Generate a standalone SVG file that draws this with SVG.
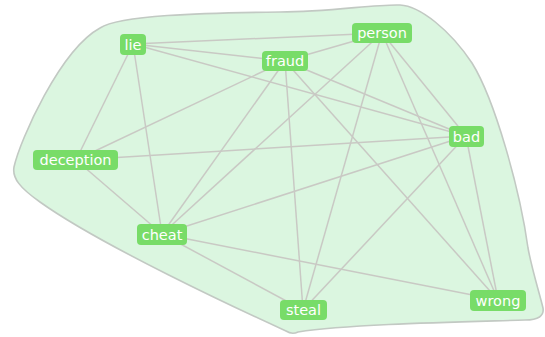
<svg xmlns="http://www.w3.org/2000/svg" width="545" height="337" viewBox="0 0 545 337">
<style>
.hull{fill:#dbf6e0;stroke:#c2c9c3;stroke-width:1.6}
.edge{stroke:#c9c9c4;stroke-width:1.5;fill:none}
.node rect{fill:#78dc68;rx:4;ry:4}
.node text{fill:#ffffff;font-family:"DejaVu Sans","Open Sans",sans-serif;font-size:14.5px;text-anchor:middle;dominant-baseline:central}
</style>
<rect width="545" height="337" fill="#ffffff"/>
<path class="hull" d="M14,167 C20,140 60,50 100,28 C120,15 200,13 280,12 C330,12 375,4 400,5 C420,6 450,30 472,63 C495,100 520,190 528,248 C532,270 540,295 543,308 Q545,320 525,320 C460,322 350,324 298,332 Q292,335 286,331 C240,310 100,245 40,202 C20,188 12,178 14,167 Z"/>
<g id="connectors">
<line class="edge" x1="133" y1="44" x2="382" y2="33"/>
<line class="edge" x1="133" y1="44" x2="285" y2="61"/>
<line class="edge" x1="133" y1="44" x2="466" y2="136"/>
<line class="edge" x1="133" y1="44" x2="76" y2="160"/>
<line class="edge" x1="133" y1="44" x2="162" y2="234"/>
<line class="edge" x1="285" y1="61" x2="382" y2="33"/>
<line class="edge" x1="285" y1="61" x2="76" y2="160"/>
<line class="edge" x1="285" y1="61" x2="162" y2="234"/>
<line class="edge" x1="285" y1="61" x2="466" y2="136"/>
<line class="edge" x1="285" y1="61" x2="303" y2="310"/>
<line class="edge" x1="285" y1="61" x2="498" y2="300"/>
<line class="edge" x1="382" y1="33" x2="162" y2="234"/>
<line class="edge" x1="382" y1="33" x2="303" y2="310"/>
<line class="edge" x1="382" y1="33" x2="498" y2="300"/>
<line class="edge" x1="382" y1="33" x2="466" y2="136"/>
<line class="edge" x1="76" y1="160" x2="466" y2="136"/>
<line class="edge" x1="76" y1="160" x2="162" y2="234"/>
<line class="edge" x1="162" y1="234" x2="466" y2="136"/>
<line class="edge" x1="162" y1="234" x2="498" y2="300"/>
<line class="edge" x1="162" y1="234" x2="303" y2="310"/>
<line class="edge" x1="466" y1="136" x2="303" y2="310"/>
<line class="edge" x1="466" y1="136" x2="498" y2="300"/>
</g>
<g id="lie" class="node"><rect x="120" y="34" width="26" height="21"/><text x="133" y="44.5">lie</text></g>
<g id="fraud" class="node"><rect x="262" y="51" width="46" height="20"/><text x="285" y="61">fraud</text></g>
<g id="person" class="node"><rect x="352" y="23" width="60" height="20"/><text x="382" y="33">person</text></g>
<g id="bad" class="node"><rect x="449" y="126" width="35" height="21"/><text x="466.5" y="136.5">bad</text></g>
<g id="deception" class="node"><rect x="33" y="150" width="85" height="20"/><text x="75.5" y="160">deception</text></g>
<g id="cheat" class="node"><rect x="137" y="224" width="50" height="21"/><text x="162" y="234.5">cheat</text></g>
<g id="steal" class="node"><rect x="280" y="300" width="47" height="20"/><text x="303.5" y="310">steal</text></g>
<g id="wrong" class="node"><rect x="470" y="290" width="56" height="21"/><text x="498" y="300.5">wrong</text></g>
</svg>
